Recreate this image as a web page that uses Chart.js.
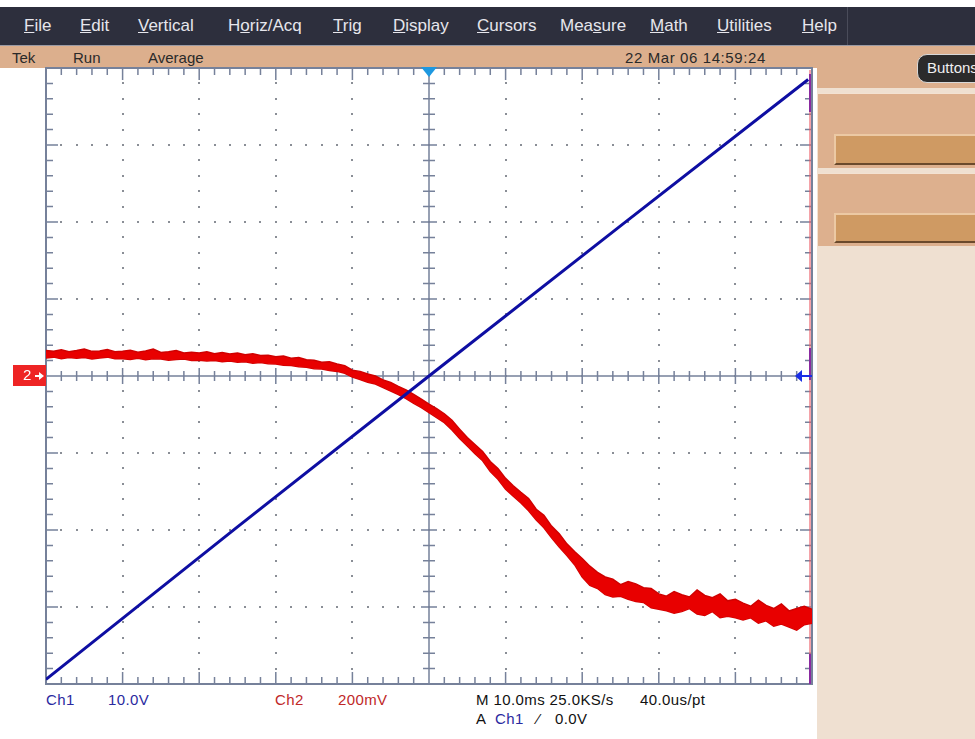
<!DOCTYPE html>
<html>
<head>
<meta charset="utf-8">
<script src="https://cdn.jsdelivr.net/npm/chart.js@4.4.2/dist/chart.umd.min.js"></script>
<style>
  body { margin:0; width:975px; height:739px; position:relative; overflow:hidden; background:#fff;
         font-family:'Liberation Sans', Arial, sans-serif; }
  .abs { position:absolute; white-space:nowrap; }
  #menu { left:0; top:7px; width:975px; height:38px; background:#2d2f3d; border-bottom:1px solid #9a9aa4; }
  #menu span { position:absolute; top:9px; font-size:17px; color:#e6e6ec; }
  #status { left:0; top:46px; width:817px; height:22px; background:#dcaf8d; }
  #status span { position:absolute; top:3px; font-size:15px; color:#2a2a2a; }
  #panel { left:817px; top:46px; width:158px; height:693px; background:#efe0d1; }
  .bot { font-size:15px; color:#111; letter-spacing:0.4px; }
</style>
</head>
<body>
<div id="menu" class="abs">
  <span style="left:24px"><u>F</u>ile</span>
  <span style="left:80px"><u>E</u>dit</span>
  <span style="left:138px"><u>V</u>ertical</span>
  <span style="left:228px">H<u>o</u>riz/Acq</span>
  <span style="left:333px"><u>T</u>rig</span>
  <span style="left:393px"><u>D</u>isplay</span>
  <span style="left:477px"><u>C</u>ursors</span>
  <span style="left:560px">Mea<u>s</u>ure</span>
  <span style="left:650px"><u>M</u>ath</span>
  <span style="left:717px"><u>U</u>tilities</span>
  <span style="left:802px"><u>H</u>elp</span>
  <div class="abs" style="left:847px;top:0;width:1px;height:38px;background:#4a4c5a"></div>
</div>
<div id="status" class="abs">
  <span style="left:12px">Tek</span>
  <span style="left:73px">Run</span>
  <span style="left:148px">Average</span>
  <span style="left:625px;letter-spacing:0.6px">22 Mar 06 14:59:24</span>
</div>
<div id="panel" class="abs">
  <div class="abs" style="left:0;top:0;width:158px;height:42px;background:#dcaf8d"></div>
  <div class="abs" style="left:100px;top:8px;width:72px;height:27px;background:#2b2b2b;border:1px solid #d8d8d8;border-radius:10px;"></div>
  <div class="abs" style="left:110px;top:13px;font-size:15px;color:#f0f0f0">Buttons</div>
  <div class="abs" style="left:0;top:47px;width:158px;height:74px;background:#ddb08e;border-top:1px solid #f3e2d2;border-left:1px solid #f3e2d2"></div>
  <div class="abs" style="left:17px;top:88px;width:141px;height:27px;background:#cf9a63;border-top:2px solid #ecc9a4;border-left:2px solid #ecc9a4;border-bottom:2px solid #6b4a2c"></div>
  <div class="abs" style="left:0;top:127px;width:158px;height:72px;background:#ddb08e;border-top:1px solid #f3e2d2;border-left:1px solid #f3e2d2"></div>
  <div class="abs" style="left:17px;top:167px;width:141px;height:26px;background:#cf9a63;border-top:2px solid #ecc9a4;border-left:2px solid #ecc9a4;border-bottom:2px solid #6b4a2c"></div>
</div>

<div class="abs bot" style="left:46px;top:691px;color:#2a2aa0">Ch1</div>
<div class="abs bot" style="left:108px;top:691px;color:#2a2aa0">10.0V</div>
<div class="abs bot" style="left:275px;top:691px;color:#c02828">Ch2</div>
<div class="abs bot" style="left:338px;top:691px;color:#c02828">200mV</div>
<div class="abs bot" style="left:476px;top:691px">M 10.0ms 25.0KS/s</div>
<div class="abs bot" style="left:640px;top:691px">40.0us/pt</div>
<div class="abs bot" style="left:476px;top:710px">A</div>
<div class="abs bot" style="left:495px;top:710px;color:#2a2aa0">Ch1</div>
<div class="abs bot" style="left:537px;top:710px">⁄</div>
<div class="abs bot" style="left:555px;top:710px">0.0V</div>

<div class="abs" style="left:0;top:0;width:975px;height:739px">
  <canvas id="chart"></canvas>
</div>

<script>
// Ch1 (10.0 V/div) ramp, time in ms, value in V
const ch1Time = [-50, -25, 0, 25, 49.5];
const ch1Volts = [-39.4, -19.6, 0, 19.5, 38.5];

// Ch2 (200 mV/div), averaged trace, 1 ms samples from -50 ms to +50 ms
// upper and lower edge of the noisy band, in mV
const ch2StartMs = -50;
const ch2StepMs = 1;
const ch2Upper = [
  66, 64, 68, 63, 66, 70, 64, 65, 69, 63,
  64, 67, 62, 65, 70, 61, 63, 66, 60, 62,
  60, 63, 58, 61, 57, 60, 55, 58, 53, 54,
  50, 52, 46, 48, 42, 41, 36, 37, 31, 27,
  15, 12, 5, 0, -10, -17, -27, -36, -48, -60,
  -73, -85, -98, -115, -138, -160, -178, -196, -222, -240,
  -266, -285, -302, -318, -346, -362, -390, -410, -436, -456,
  -474, -494, -510, -522, -528, -542, -534, -540, -550, -552,
  -566, -572, -560, -568, -574, -556, -570, -576, -566, -584,
  -580, -590, -598, -582, -596, -604, -592, -610, -604, -598, -606
];
const ch2Lower = [
  47, 49, 45, 48, 46, 48, 44, 47, 49, 45,
  45, 43, 46, 42, 45, 44, 41, 43, 44, 40,
  41, 39, 40, 37, 39, 36, 37, 33, 35, 32,
  31, 28, 27, 24, 23, 19, 18, 14, 12, 7,
  -3, -9, -16, -21, -30, -39, -48, -59, -71, -82,
  -95, -108, -121, -140, -162, -182, -202, -220, -248, -268,
  -294, -312, -330, -350, -374, -394, -420, -444, -466, -490,
  -522, -544, -552, -568, -574, -572, -580, -586, -588, -602,
  -606, -610, -616, -612, -604, -618, -622, -612, -628, -624,
  -628, -634, -628, -642, -636, -650, -644, -652, -660, -646, -642
];

const toPoints = (vals) => vals.map((v, i) => ({ x: ch2StartMs + i * ch2StepMs, y: v }));

const graticule = {
  id: 'graticule',
  beforeDatasetsDraw(chart) {
    const { ctx, chartArea: a } = chart;
    const dx = (a.right - a.left) / 10, dy = (a.bottom - a.top) / 8;
    const cx = a.left + 5 * dx, cy = a.top + 4 * dy;
    ctx.save();
    // dotted major grid
    ctx.fillStyle = '#8a8e96';
    for (let i = 1; i < 10; i++) {
      if (i === 5) continue;
      const px = Math.round(a.left + i * dx);
      for (let j = 1; j < 40; j++) ctx.fillRect(px - 1, Math.round(a.top + j * dy / 5) - 1, 2, 2);
    }
    for (let j = 1; j < 8; j++) {
      if (j === 4) continue;
      const py = Math.round(a.top + j * dy);
      for (let i = 1; i < 50; i++) ctx.fillRect(Math.round(a.left + i * dx / 5) - 1, py - 1, 2, 2);
    }
    ctx.strokeStyle = '#76819a';
    ctx.lineWidth = 1.5;
    ctx.beginPath();
    // center cross
    ctx.moveTo(a.left, cy); ctx.lineTo(a.right, cy);
    ctx.moveTo(cx, a.top); ctx.lineTo(cx, a.bottom);
    for (let i = 1; i < 50; i++) {
      const px = a.left + i * dx / 5, big = i % 5 === 0 ? 8 : 5;
      ctx.moveTo(px, cy - big); ctx.lineTo(px, cy + big);
      const tl = i % 5 === 0 ? 12 : 7;
      ctx.moveTo(px, a.top); ctx.lineTo(px, a.top + tl);
      ctx.moveTo(px, a.bottom); ctx.lineTo(px, a.bottom - tl);
    }
    for (let j = 1; j < 40; j++) {
      const py = a.top + j * dy / 5, big = j % 5 === 0 ? 8 : 6;
      ctx.moveTo(cx - big, py); ctx.lineTo(cx + big, py);
      const tl = j % 5 === 0 ? 12 : 7;
      ctx.moveTo(a.left, py); ctx.lineTo(a.left + tl, py);
      ctx.moveTo(a.right, py); ctx.lineTo(a.right - tl, py);
    }
    ctx.stroke();
    ctx.lineWidth = 2;
    ctx.strokeRect(a.left, a.top, a.right - a.left, a.bottom - a.top);
    // trace edge at the right of the record
    ctx.strokeStyle = 'rgba(235,90,100,0.75)';
    ctx.lineWidth = 1.5;
    ctx.beginPath(); ctx.moveTo(a.right - 2, a.top + 2); ctx.lineTo(a.right - 2, a.bottom); ctx.stroke();
    ctx.strokeStyle = '#8a2aa0';
    ctx.lineWidth = 2;
    ctx.beginPath();
    ctx.moveTo(a.right - 2, a.top + 6); ctx.lineTo(a.right - 2, a.top + 44);
    ctx.moveTo(a.right - 2, cy - 28); ctx.lineTo(a.right - 2, cy + 4);
    ctx.moveTo(a.right - 2, a.bottom - 30); ctx.lineTo(a.right - 2, a.bottom);
    ctx.stroke();
    ctx.restore();
  },
  afterDatasetsDraw(chart) {
    const { ctx, chartArea: a, scales } = chart;
    const cx = scales.x.getPixelForValue(0);
    const cy = scales.y2.getPixelForValue(0);
    ctx.save();
    // trigger position marker
    ctx.fillStyle = '#1e98e0';
    ctx.beginPath();
    ctx.moveTo(cx - 8, a.top - 1); ctx.lineTo(cx + 8, a.top - 1); ctx.lineTo(cx, a.top + 9); ctx.closePath();
    ctx.fill();
    // trigger level marker
    ctx.fillStyle = '#1a2ee6';
    ctx.beginPath();
    ctx.moveTo(a.right - 17, cy); ctx.lineTo(a.right - 10, cy - 6); ctx.lineTo(a.right - 10, cy + 6); ctx.closePath();
    ctx.fill();
    ctx.fillRect(a.right - 10, cy - 1, 10, 2);
    // Ch2 ground marker
    ctx.fillStyle = '#ee2424';
    ctx.fillRect(13, cy - 11, a.left - 13, 21);
    ctx.fillStyle = '#ffffff';
    ctx.font = '15px "Liberation Sans", Arial, sans-serif';
    ctx.textBaseline = 'middle';
    ctx.fillText('2', 23, cy);
    ctx.fillRect(35, cy - 1, 6, 2);
    ctx.beginPath();
    ctx.moveTo(44, cy); ctx.lineTo(39, cy - 4); ctx.lineTo(39, cy + 4); ctx.closePath();
    ctx.fill();
    ctx.restore();
  }
};

const chart = new Chart(document.getElementById('chart'), {
  type: 'line',
  data: {
    datasets: [
      {
        label: 'Ch1',
        data: ch1Time.map((t, i) => ({ x: t, y: ch1Volts[i] })),
        yAxisID: 'y',
        borderColor: '#0e0ea2',
        borderWidth: 3,
        pointRadius: 0,
        fill: false
      },
      {
        label: 'Ch2 upper',
        data: toPoints(ch2Upper),
        yAxisID: 'y2',
        borderColor: '#d00000',
        backgroundColor: '#e80000',
        borderWidth: 1.5,
        pointRadius: 0,
        fill: '+1'
      },
      {
        label: 'Ch2 lower',
        data: toPoints(ch2Lower),
        yAxisID: 'y2',
        borderColor: '#d00000',
        borderWidth: 1.5,
        pointRadius: 0,
        fill: false
      }
    ]
  },
  options: {
    responsive: true,
    maintainAspectRatio: false,
    animation: false,
    layout: { padding: { left: 46, top: 68, right: 163, bottom: 55 } },
    plugins: { legend: { display: false }, tooltip: { enabled: false } },
    scales: {
      x: { type: 'linear', min: -50, max: 50, display: false },
      y: { min: -40, max: 40, display: false },
      y2: { min: -800, max: 800, display: false }
    }
  },
  plugins: [graticule]
});
</script>
</body>
</html>
